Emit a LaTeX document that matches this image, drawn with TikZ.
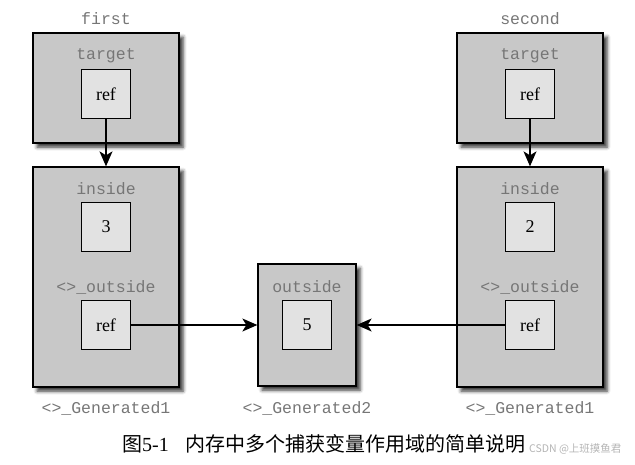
\documentclass[tikz,border=0pt]{standalone}
\usepackage{fontspec}
\setmainfont{Liberation Serif}
\setmonofont{Liberation Mono}
\newfontfamily\cjk{Noto Sans CJK SC}
\usetikzlibrary{shadows.blur,arrows.meta}
\definecolor{shell}{HTML}{C8C8C8}
\definecolor{slot}{HTML}{E2E2E2}
\definecolor{tagtext}{HTML}{767676}
\definecolor{mark}{HTML}{B4B4B4}

\tikzset{
  frame/.style={draw=black, line width=1.3pt, fill=shell, inner sep=0pt,
    blur shadow={shadow xshift=4pt, shadow yshift=-4pt, shadow blur radius=3.5pt, shadow opacity=80}},
  cell/.style={draw=black, line width=1.1pt, fill=slot, minimum width=49pt, minimum height=49pt,
    inner sep=0pt, font=\fontsize{18}{20}\selectfont},
  tag/.style={text=tagtext, inner sep=0pt, font=\ttfamily\fontsize{16.5}{18}\selectfont},
  link/.style={line width=1.2pt, -{Stealth[length=15pt, width=13pt, inset=4pt]}}
}

\begin{document}
\begin{tikzpicture}[x=1pt, y=-1pt]
  \useasboundingbox (0,0) rectangle (635,464);

  % outer frames
  \node[frame, minimum width=146pt, minimum height=110pt] (topL) at (106,88) {};
  \node[frame, minimum width=146pt, minimum height=220pt] (genL) at (106,277) {};
  \node[frame, minimum width=98pt, minimum height=122pt] (genM) at (307,325) {};
  \node[frame, minimum width=146pt, minimum height=110pt] (topR) at (530,88) {};
  \node[frame, minimum width=146pt, minimum height=220pt] (genR) at (530,277) {};

  % left column
  \node[tag] (firstLbl) at (106,19) {first};
  \node[tag] (targetL) at (106,56) {target};
  \node[cell] (refTL) at (106,94) {ref};
  \node[tag] (insideL) at (106,189) {inside};
  \node[cell] (valL) at (106,227) {3};
  \node[tag] (outsideL) at (106,287) {<>\_outside};
  \node[cell] (refL) at (106,325) {ref};
  \node[tag] (genLLbl) at (106,408) {<>\_Generated1};

  % middle
  \node[tag] (outsideM) at (307,287) {outside};
  \node[cell] (valM) at (307,325) {5};
  \node[tag] (genMLbl) at (307,408) {<>\_Generated2};

  % right column
  \node[tag] (secondLbl) at (530,19) {second};
  \node[tag] (targetR) at (530,56) {target};
  \node[cell] (refTR) at (530,94) {ref};
  \node[tag] (insideR) at (530,189) {inside};
  \node[cell] (valR) at (530,227) {2};
  \node[tag] (outsideR) at (530,287) {<>\_outside};
  \node[cell] (refR) at (530,325) {ref};
  \node[tag] (genRLbl) at (530,408) {<>\_Generated1};

  % references
  \draw[link] (refTL) -- (genL);
  \draw[link] (refTR) -- (genR);
  \draw[link] (refL) -- (genM);
  \draw[link] (refR) -- (genM);

  % caption
  \node[anchor=west, inner sep=0pt, font=\fontsize{20}{22}\selectfont] (cap) at (122,444)
    {{\cjk 图}5-1\hspace{17pt}{\cjk 内存中多个捕获变量作用域的简单说明}};
  \node[anchor=west, inner sep=0pt, text=mark, font=\cjk\fontsize{10.5}{12}\selectfont] (wm) at (529,449) {CSDN @上班摸鱼君};
\end{tikzpicture}
\end{document}
